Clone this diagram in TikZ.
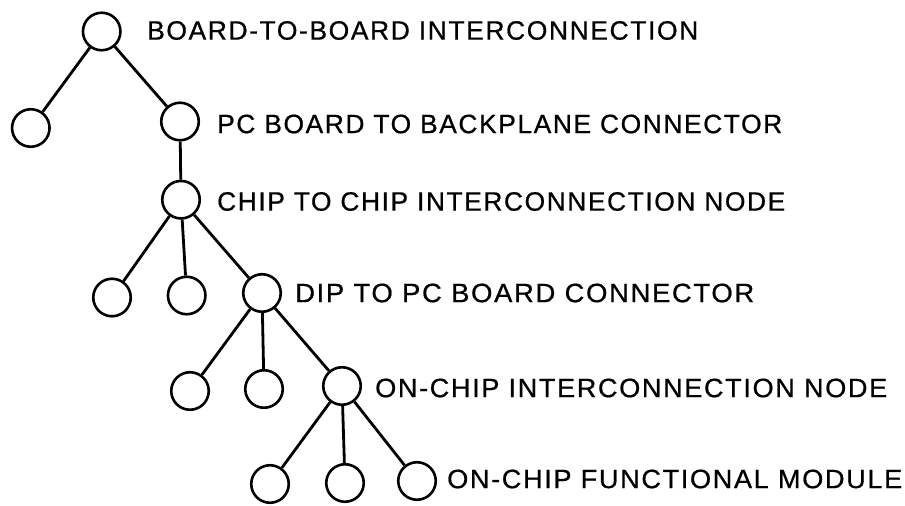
\documentclass[tikz,border=0pt]{standalone}
\usepackage{fontspec}
\setmainfont[LetterSpace=6,FakeBold=0.7]{Liberation Sans}
\usepackage{graphicx}
\newcommand{\lbl}[2]{\resizebox{#1pt}{18.5pt}{#2}}
\begin{document}
\begin{tikzpicture}[x=1pt,y=1pt,
  nd/.style={circle,draw,line width=2.6pt,minimum size=37.5pt,inner sep=0pt},
  lk/.style={line width=2.8pt},
  tx/.style={anchor=west,inner sep=0pt}]
\useasboundingbox (0,0) rectangle (905,506);
% circles (y = 506 - image y)
\node[nd] (A)  at (101.7,474.5) {};
\node[nd] (B)  at (30.8,378) {};
\node[nd] (C)  at (180,384.5) {};
\node[nd] (D)  at (181,306.3) {};
\node[nd] (E1) at (112,208.5) {};
\node[nd] (E2) at (186.7,210.5) {};
\node[nd] (E3) at (262,213) {};
\node[nd] (F1) at (190,115) {};
\node[nd] (F2) at (264,117) {};
\node[nd] (F3) at (342,120) {};
\node[nd] (G1) at (270,22) {};
\node[nd] (G2) at (345,23) {};
\node[nd] (G3) at (417,25) {};
% links
\draw[lk] (A) -- (B);
\draw[lk] (A) -- (C);
\draw[lk] (C) -- (D);
\draw[lk] (D) -- (E1);
\draw[lk] (D) -- (E2);
\draw[lk] (D) -- (E3);
\draw[lk] (E3) -- (F1);
\draw[lk] (E3) -- (F2);
\draw[lk] (E3) -- (F3);
\draw[lk] (F3) -- (G1);
\draw[lk] (F3) -- (G2);
\draw[lk] (F3) -- (G3);
% labels
\node[tx] (t1) at (147,475.5) {\lbl{551}{BOARD-TO-BOARD INTERCONNECTION}};
\node[tx] (t2) at (217,382) {\lbl{565}{PC BOARD TO BACKPLANE CONNECTOR}};
\node[tx] (t3) at (217,304.5) {\lbl{568}{CHIP TO CHIP INTERCONNECTION NODE}};
\node[tx] (t4) at (295,213) {\lbl{459}{DIP TO PC BOARD CONNECTOR}};
\node[tx] (t5) at (375,118) {\lbl{512}{ON-CHIP INTERCONNECTION NODE}};
\node[tx] (t6) at (447,27) {\lbl{455}{ON-CHIP FUNCTIONAL MODULE}};
\end{tikzpicture}
\end{document}
